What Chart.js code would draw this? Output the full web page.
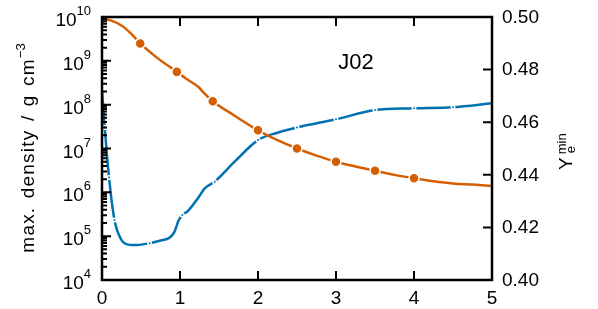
<!DOCTYPE html>
<html>
<head>
<meta charset="utf-8">
<script src="https://cdn.jsdelivr.net/npm/chart.js@4/dist/chart.umd.min.js"></script>
<style>
  html, body { margin: 0; padding: 0; background: #fff; }
  #wrap { width: 598px; height: 309px; position: relative; }
</style>
</head>
<body>
<div id="wrap"><canvas id="c" width="598" height="309"></canvas></div>
<script>
// ---- data ----
const densityTime = [0, 0.1, 0.2, 0.3, 0.4, 0.49, 0.7, 0.96, 1.12, 1.2, 1.25, 1.3, 1.42, 1.7, 2.0, 2.25, 2.5, 2.75, 3.0, 3.25, 3.5, 3.75, 4.0, 4.25, 4.5, 4.75, 5.0];
const densityValues = [9.3e9, 8.5e9, 7.2e9, 5.5e9, 3.7e9, 2.5e9, 1.2e9, 5.6e8, 3.5e8, 2.85e8, 2.4e8, 1.9e8, 1.2e8, 5.6e7, 2.6e7, 1.55e7, 1.0e7, 6.9e6, 5.0e6, 3.9e6, 3.1e6, 2.5e6, 2.1e6, 1.8e6, 1.6e6, 1.5e6, 1.4e6];
const densityMarkerTimes = [0.49, 0.96, 1.42, 2.0, 2.5, 3.0, 3.5, 4.0];

const yeTime = [0, 0.035, 0.09, 0.16, 0.25, 0.3, 0.375, 0.45, 0.61, 0.75, 0.87, 0.93, 0.98, 1.03, 1.1, 1.23, 1.32, 1.445, 1.7, 2.0, 2.25, 2.5, 3.0, 3.5, 4.0, 4.5, 5.0];
const yeValues = [0.472, 0.458, 0.439, 0.4228, 0.4152, 0.4138, 0.4133, 0.4133, 0.4140, 0.4150, 0.4162, 0.4184, 0.4225, 0.4247, 0.4262, 0.4311, 0.4349, 0.4374, 0.4450, 0.4532, 0.4560, 0.4580, 0.4611, 0.4646, 0.4653, 0.4657, 0.4672];
const yeMarkerTimes = [0.035, 0.09, 0.16, 0.61, 1.03, 1.445, 2.0, 2.5, 3.0, 3.5, 4.0, 4.5];

const xTicks = [0, 1, 2, 3, 4, 5];
const densityExponents = [4, 5, 6, 7, 8, 9, 10];
const yeTicks = ['0.40', '0.42', '0.44', '0.46', '0.48', '0.50'];

const panelLabel = 'J02';
const leftTitle = 'max. density / g cm';
const leftTitleSup = '\u22123';
const rightTitleMain = 'Y';
const rightTitleSub = 'e';
const rightTitleSup = 'min';

// ---- styles ----
const ORANGE = '#D55E00';
const BLUE = '#0072B2';
const FONT = '"Liberation Sans", Arial, Helvetica, sans-serif';

const orangeData = densityTime.map((t, i) => ({ x: t, y: densityValues[i] }));
const blueData = yeTime.map((t, i) => ({ x: t, y: yeValues[i] }));

const decorPlugin = {
  id: 'decor',
  afterDraw(chart) {
    const ctx = chart.ctx;
    const a = chart.chartArea;
    const sx = chart.scales.x, sy = chart.scales.y, sy2 = chart.scales.y2;
    ctx.save();
    ctx.strokeStyle = '#000';
    ctx.fillStyle = '#000';
    // ticks
    ctx.lineWidth = 2;
    ctx.beginPath();
    const MAJ = 9, MIN = 5;
    xTicks.forEach(v => {
      if (v <= 0 || v >= 5) return;
      const px = sx.getPixelForValue(v);
      ctx.moveTo(px, a.bottom); ctx.lineTo(px, a.bottom - MAJ);
      ctx.moveTo(px, a.top); ctx.lineTo(px, a.top + MAJ);
    });
    densityExponents.forEach((e, k) => {
      const base = Math.pow(10, e);
      if (k > 0 && k < densityExponents.length - 1) {
        const py = sy.getPixelForValue(base);
        ctx.moveTo(a.left, py); ctx.lineTo(a.left + MAJ, py);
      }
      if (k < densityExponents.length - 1) {
        for (let m = 2; m <= 9; m++) {
          const py = sy.getPixelForValue(m * base);
          ctx.moveTo(a.left, py); ctx.lineTo(a.left + MIN, py);
        }
      }
    });
    yeTicks.forEach((s, k) => {
      if (k === 0 || k === yeTicks.length - 1) return;
      const py = sy2.getPixelForValue(parseFloat(s));
      ctx.moveTo(a.right, py); ctx.lineTo(a.right - MAJ, py);
    });
    ctx.stroke();
    // frame
    ctx.lineWidth = 2.5;
    ctx.strokeRect(a.left, a.top, a.right - a.left, a.bottom - a.top);

    // x labels
    ctx.font = '19px ' + FONT;
    ctx.textAlign = 'center';
    ctx.textBaseline = 'alphabetic';
    xTicks.forEach(v => {
      ctx.fillText(String(v), sx.getPixelForValue(v), 304);
    });
    // right labels
    ctx.textAlign = 'left';
    ctx.textBaseline = 'middle';
    yeTicks.forEach(s => {
      ctx.fillText(s, a.right + 10, sy2.getPixelForValue(parseFloat(s)) + 0.5);
    });
    // left labels 10^n
    densityExponents.forEach(e => {
      const py = sy.getPixelForValue(Math.pow(10, e));
      ctx.font = '13px ' + FONT;
      const supW = ctx.measureText(String(e)).width;
      ctx.textAlign = 'right';
      ctx.textBaseline = 'alphabetic';
      ctx.fillText(String(e), 91, py - 2);
      ctx.font = '19px ' + FONT;
      ctx.fillText('10', 91 - supW, py + 9);
    });
    // panel label
    ctx.font = '22px ' + FONT;
    ctx.textAlign = 'center';
    ctx.textBaseline = 'middle';
    ctx.fillText(panelLabel, 356, 63);

    // left title (rotated)
    ctx.save();
    ctx.translate(34, 148);
    ctx.rotate(-Math.PI / 2);
    ctx.textAlign = 'left';
    ctx.textBaseline = 'alphabetic';
    ctx.font = '13px ' + FONT;
    ctx.letterSpacing = '0px';
    ctx.wordSpacing = '0px';
    const w2 = ctx.measureText(leftTitleSup).width;
    ctx.letterSpacing = '1.2px';
    ctx.wordSpacing = '2px';
    ctx.font = '19px ' + FONT;
    const w1 = ctx.measureText(leftTitle).width;
    const start = -(w1 + w2) / 2;
    ctx.fillText(leftTitle, start, 0);
    ctx.letterSpacing = '0px';
    ctx.wordSpacing = '0px';
    ctx.font = '13px ' + FONT;
    ctx.fillText(leftTitleSup, start + w1, -9);
    ctx.restore();

    // right title (rotated)
    ctx.save();
    ctx.translate(572, 170);
    ctx.rotate(-Math.PI / 2);
    ctx.textAlign = 'left';
    ctx.textBaseline = 'alphabetic';
    ctx.font = '19px ' + FONT;
    ctx.fillText(rightTitleMain, 0, 0);
    const wy = ctx.measureText(rightTitleMain).width;
    ctx.font = '13px ' + FONT;
    ctx.fillText(rightTitleSup, wy + 3, -6);
    ctx.fillText(rightTitleSub, wy + 4, 3);
    ctx.restore();

    ctx.restore();
  }
};

new Chart(document.getElementById('c'), {
  type: 'line',
  data: {
    datasets: [
      {
        label: 'max. density',
        data: orangeData,
        yAxisID: 'y',
        borderColor: ORANGE,
        backgroundColor: ORANGE,
        borderWidth: 2.5,
        cubicInterpolationMode: 'monotone',
        pointRadius: c => densityMarkerTimes.includes(c.raw && c.raw.x) ? 5 : 0,
        pointBackgroundColor: ORANGE,
        pointBorderColor: '#fff',
        pointBorderWidth: 1.5,
        pointHoverRadius: 0,
        fill: false
      },
      {
        label: 'Ye min',
        data: blueData,
        yAxisID: 'y2',
        borderColor: BLUE,
        backgroundColor: BLUE,
        borderWidth: 2.5,
        cubicInterpolationMode: 'monotone',
        pointRadius: c => yeMarkerTimes.includes(c.raw && c.raw.x) ? 1.75 : 0,
        pointBackgroundColor: BLUE,
        pointBorderColor: '#fff',
        pointBorderWidth: 1.5,
        pointHoverRadius: 0,
        fill: false
      }
    ]
  },
  options: {
    responsive: false,
    animation: false,
    events: [],
    layout: { padding: { left: 102, right: 106, top: 17, bottom: 29 } },
    plugins: { legend: { display: false }, tooltip: { enabled: false } },
    scales: {
      x: { type: 'linear', min: 0, max: 5, display: false },
      y: { type: 'logarithmic', min: 1e4, max: 1e10, display: false },
      y2: { type: 'linear', min: 0.40, max: 0.50, display: false, position: 'right' }
    }
  },
  plugins: [decorPlugin]
});
</script>
</body>
</html>
